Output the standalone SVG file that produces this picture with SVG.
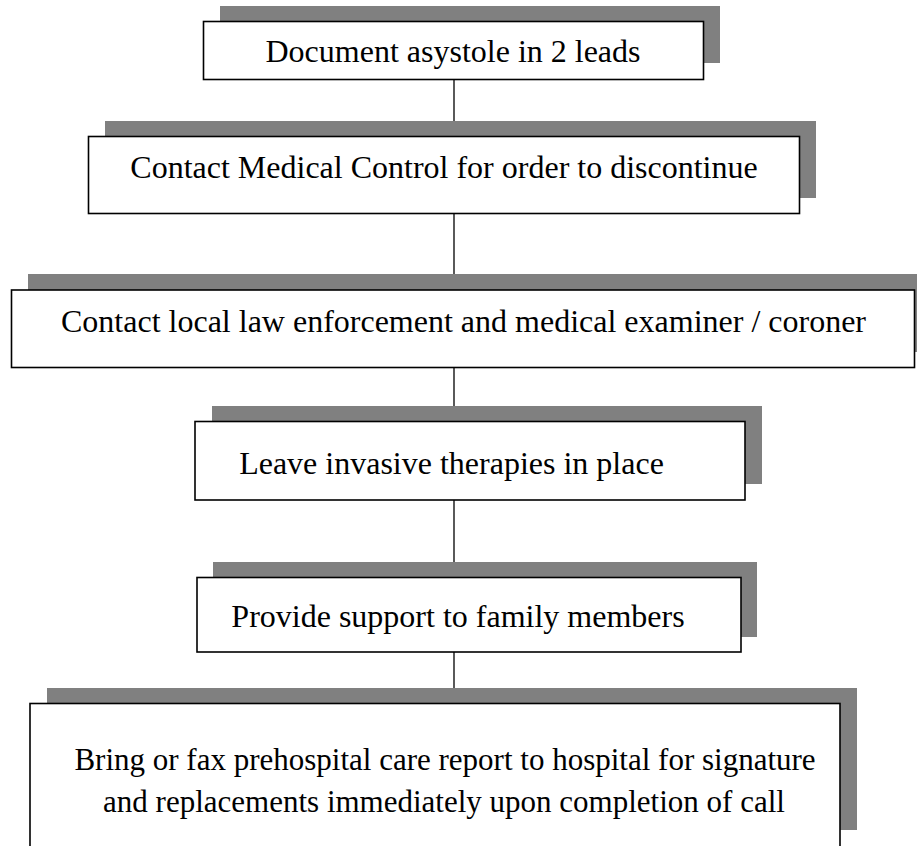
<svg xmlns="http://www.w3.org/2000/svg" width="917" height="846" viewBox="0 0 917 846">
<style>
.sh{fill:#808080;stroke:none}
.bx{fill:#fff;stroke:#000;stroke-width:1.6}
.t{font-family:"Liberation Serif","Times New Roman",serif;font-size:32px;fill:#000;text-anchor:middle}
.t6{font-size:31px}
.c{stroke:#000;stroke-width:1.3;fill:none}
</style>
<rect width="917" height="846" fill="#fff"/>
<g id="connectors">
<line class="c" x1="454" y1="79.5" x2="454" y2="121"/>
<line class="c" x1="454" y1="213.5" x2="454" y2="274"/>
<line class="c" x1="454" y1="367.5" x2="454" y2="406"/>
<line class="c" x1="454" y1="500" x2="454" y2="562"/>
<line class="c" x1="454" y1="652" x2="454" y2="688"/>
</g>
<g id="n1">
<rect class="sh" x="220" y="6" width="500" height="57"/>
<rect class="bx" x="203.5" y="21.5" width="500" height="58"/>
<text class="t" x="453" y="62">Document asystole in 2 leads</text>
</g>
<g id="n2">
<rect class="sh" x="105" y="121" width="711" height="77"/>
<rect class="bx" x="88.5" y="136.5" width="711" height="77"/>
<text class="t" x="444" y="178">Contact Medical Control for order to discontinue</text>
</g>
<g id="n3">
<rect class="sh" x="28" y="274" width="903" height="78"/>
<rect class="bx" x="11.5" y="290" width="903" height="77.5"/>
<text class="t" x="463.5" y="332">Contact local law enforcement and medical examiner / coroner</text>
</g>
<g id="n4">
<rect class="sh" x="212" y="406" width="550" height="78"/>
<rect class="bx" x="195" y="421.5" width="550" height="78.5"/>
<text class="t" x="451.5" y="474">Leave invasive therapies in place</text>
</g>
<g id="n5">
<rect class="sh" x="213" y="562" width="544" height="75"/>
<rect class="bx" x="197" y="577.5" width="544" height="74.5"/>
<text class="t" x="458" y="627">Provide support to family members</text>
</g>
<g id="n6">
<rect class="sh" x="47" y="688" width="810" height="142"/>
<rect class="bx" x="30" y="703.5" width="810" height="160"/>
<text class="t t6" x="445" y="770">Bring or fax prehospital care report to hospital for signature</text>
<text class="t t6" x="444" y="812">and replacements immediately upon completion of call</text>
</g>
</svg>
